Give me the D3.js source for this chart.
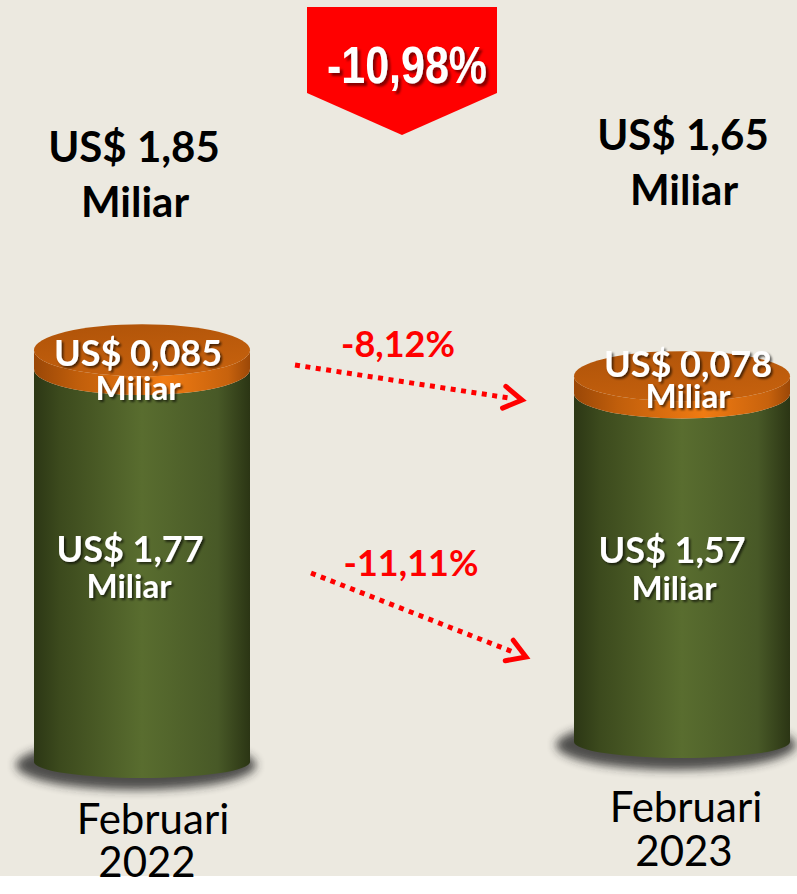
<!DOCTYPE html>
<html>
<head>
    <meta charset="UTF-8">
    <title>Nilai Februari 2022 vs 2023</title>
    <script src="https://d3js.org/d3.v7.min.js"></script>
    <style>
        body { margin: 0; background: #fff; }
        svg { display: block; }
        .lbl { font-family: Lato, "Open Sans", sans-serif; font-weight: 700; text-anchor: middle; }
    </style>
</head>
<body>
    <svg width="797" height="894"></svg>
    <script>
        // data
        const periods = ["Februari 2022", "Februari 2023"];
        const months = ["Februari", "Februari"];
        const years = ["2022", "2023"];
        const totals = [1.85, 1.65];
        const baseValues = [1.77, 1.57];     // green part
        const topValues = [0.085, 0.078];    // orange part
        const totalChange = "-10,98%";
        const segChanges = ["-8,12%", "-11,11%"];   // orange, green

        const W = 797, H = 894;
        const svg = d3.select("svg");
        const defs = svg.append("defs");

        const loc = d3.formatLocale({ decimal: ",", thousands: ".", grouping: [3], currency: ["US$ ", ""] });
        const fmt2 = loc.format("$.2f"), fmt3 = loc.format("$.3f");

        // background
        svg.append("rect").attr("width", W).attr("height", H).attr("fill", "#fff");
        svg.append("rect").attr("width", W).attr("height", 876).attr("fill", "#ECE9E0");

        // gradients
        function hGrad(id, stops) {
            const g = defs.append("linearGradient").attr("id", id).attr("x1", 0).attr("x2", 1).attr("y1", 0).attr("y2", 0);
            stops.forEach(s => g.append("stop").attr("offset", s[0]).attr("stop-color", s[1]));
        }
        hGrad("green", [[0, "#2C3715"], [0.12, "#3C4A1D"], [0.5, "#596D2F"], [0.85, "#485927"], [1, "#2B3514"]]);
        hGrad("orange", [[0, "#9A4707"], [0.2, "#C05E0B"], [0.6, "#F07B12"], [0.9, "#C7620D"], [1, "#9C4807"]]);
        const tg = defs.append("linearGradient").attr("id", "topface").attr("x1", 0).attr("x2", 0.4).attr("y1", 0).attr("y2", 1);
        tg.append("stop").attr("offset", 0).attr("stop-color", "#AF5309");
        tg.append("stop").attr("offset", 1).attr("stop-color", "#C4600D");

        const blur = defs.append("filter").attr("id", "blur").attr("x", "-30%").attr("y", "-100%").attr("width", "160%").attr("height", "300%");
        blur.append("feGaussianBlur").attr("stdDeviation", 5);

        const ts = defs.append("filter").attr("id", "tshadow");
        ts.append("feDropShadow").attr("dx", 2).attr("dy", 2).attr("stdDeviation", 1.2)
            .attr("flood-color", "#000").attr("flood-opacity", 0.6);
        const bs = defs.append("filter").attr("id", "bshadow");
        bs.append("feDropShadow").attr("dx", 3).attr("dy", 3).attr("stdDeviation", 1)
            .attr("flood-color", "#6a0000").attr("flood-opacity", 0.8);

        // scales
        const x = d3.scaleBand().domain(periods).range([34, 790]).paddingInner(0.6).paddingOuter(0);
        const h = d3.scaleLinear().domain([0, 1]).range([0, 222]);
        const bottoms = [762, 742];
        const ry = [26, 25];
        const bry = 16;

        const cyl = periods.map((p, i) => {
            const x0 = x(p), x1 = x(p) + x.bandwidth();
            const yBot = bottoms[i];
            const yMid = yBot - h(baseValues[i]);
            const yTop = yBot - h(baseValues[i] + topValues[i]);
            return { x0, x1, cx: (x0 + x1) / 2, rx: (x1 - x0) / 2, yBot, yMid, yTop, ry: ry[i] };
        });

        function segPath(c, yA, yB, r) {
            return `M${c.x0},${yA} L${c.x0},${yB} A${c.rx},${r} 0 0 0 ${c.x1},${yB} L${c.x1},${yA} A${c.rx},${c.ry} 0 0 1 ${c.x0},${yA} Z`;
        }

        const g = svg.append("g");
        // shadows
        g.selectAll(".shadow").data(cyl).enter().append("ellipse")
            .attr("cx", d => d.cx - 6).attr("cy", d => d.yBot + 3)
            .attr("rx", d => d.rx + 12).attr("ry", bry + 9)
            .attr("fill", "#262626").attr("opacity", 0.8).attr("filter", "url(#blur)");
        // green bodies
        g.selectAll(".body").data(cyl).enter().append("path")
            .attr("d", d => segPath(d, d.yMid, d.yBot, bry)).attr("fill", "url(#green)");
        // orange bands
        g.selectAll(".band").data(cyl).enter().append("path")
            .attr("d", d => segPath(d, d.yTop, d.yMid, d.ry)).attr("fill", "url(#orange)");
        // top face
        g.selectAll(".face").data(cyl).enter().append("ellipse")
            .attr("cx", d => d.cx).attr("cy", d => d.yTop)
            .attr("rx", d => d.rx).attr("ry", d => d.ry)
            .attr("fill", "url(#topface)");

        // banner
        svg.append("polygon")
            .attr("points", [[307, 7], [497, 7], [497, 93], [402, 135], [307, 93]].map(p => p.join(",")).join(" "))
            .attr("fill", "#FF0000");
        svg.append("text").attr("x", 327).attr("y", 83)
            .style("font-family", "'Liberation Sans Narrow', 'Arial Narrow', 'Liberation Sans', sans-serif")
            .style("font-weight", 700).style("font-size", "52px")
            .attr("textLength", 160).attr("lengthAdjust", "spacingAndGlyphs")
            .attr("fill", "#fff").attr("filter", "url(#bshadow)")
            .text(totalChange);

        // total labels above
        const totalPos = [[134, 162, 217], [683, 150, 205]];
        totals.forEach((v, i) => {
            const t = svg.append("text").attr("class", "lbl").style("font-size", "42px").attr("fill", "#000");
            t.append("tspan").attr("x", totalPos[i][0]).attr("y", totalPos[i][1]).text(fmt2(v));
            t.append("tspan").attr("x", totalPos[i][0] + 1).attr("y", totalPos[i][2]).text("Miliar");
        });

        // labels on the orange parts
        const topPos = [[-4, 366, 400], [6, 377, 408]];
        cyl.forEach((c, i) => {
            const t = svg.append("text").attr("class", "lbl").attr("fill", "#fff").attr("filter", "url(#tshadow)");
            t.append("tspan").attr("x", c.cx + topPos[i][0]).attr("y", topPos[i][1]).style("font-size", "36px").text(fmt3(topValues[i]));
            t.append("tspan").attr("x", c.cx + topPos[i][0]).attr("y", topPos[i][2]).style("font-size", "33px").text("Miliar");
        });

        // labels on the green parts
        const basePos = [[-12, 562, 598], [-10, 563, 600]];
        cyl.forEach((c, i) => {
            const t = svg.append("text").attr("class", "lbl").attr("fill", "#fff").attr("filter", "url(#tshadow)");
            t.append("tspan").attr("x", c.cx + basePos[i][0]).attr("y", basePos[i][1]).style("font-size", "36px").text(fmt2(baseValues[i]));
            t.append("tspan").attr("x", c.cx + basePos[i][0] - 1 + i * 3).attr("y", basePos[i][2]).style("font-size", "33px").text("Miliar");
        });

        // dotted arrows
        defs.append("marker").attr("id", "chev")
            .attr("markerUnits", "userSpaceOnUse")
            .attr("viewBox", "0 0 30 30").attr("markerWidth", 30).attr("markerHeight", 30)
            .attr("refX", 10).attr("refY", 15).attr("orient", "auto")
            .append("path").attr("d", "M6,4 L24,15 L6,26")
            .attr("fill", "none").attr("stroke", "#FF0000").attr("stroke-width", 5)
            .attr("stroke-linecap", "round").attr("stroke-linejoin", "miter");

        const arrows = [
            { from: [295, 365], to: [522, 400], label: [398, 357] },
            { from: [311, 573], to: [526, 657], label: [411, 576] }
        ];
        arrows.forEach((a, i) => {
            const dx = a.to[0] - a.from[0], dy = a.to[1] - a.from[1];
            const len = Math.hypot(dx, dy);
            const ex = a.to[0] - dx / len * 14, ey = a.to[1] - dy / len * 14;
            svg.append("line")
                .attr("x1", a.from[0]).attr("y1", a.from[1]).attr("x2", ex).attr("y2", ey)
                .attr("stroke", "#FF0000").attr("stroke-width", 5)
                .attr("stroke-dasharray", "5,5.5")
                .attr("marker-end", "url(#chev)");
            svg.append("text").attr("class", "lbl").attr("x", a.label[0]).attr("y", a.label[1])
                .style("font-size", "36px").attr("fill", "#FF0000").text(segChanges[i]);
        });

        // period labels
        const perPos = [[153, 834, 147, 877], [686, 822, 684, 866]];
        periods.forEach((p, i) => {
            const t = svg.append("text").style("font-family", "Lato, 'Open Sans', sans-serif")
                .style("font-size", "42px").attr("text-anchor", "middle").attr("fill", "#000");
            t.append("tspan").attr("x", perPos[i][0]).attr("y", perPos[i][1]).text(months[i]);
            t.append("tspan").attr("x", perPos[i][2]).attr("y", perPos[i][3]).text(years[i]);
        });
    </script>
</body>
</html>
